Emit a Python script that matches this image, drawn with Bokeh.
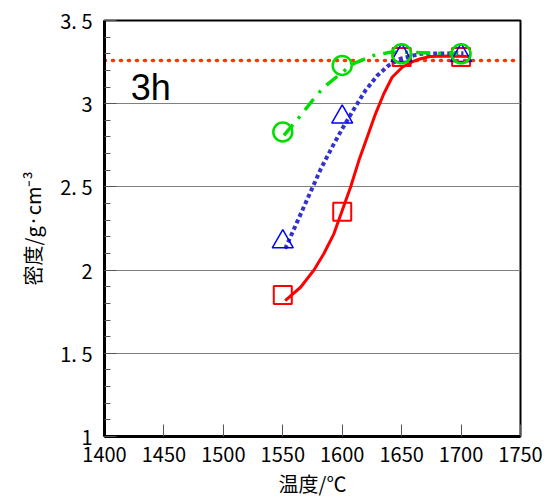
from bokeh.plotting import figure
from bokeh.models import Range1d, FixedTicker, Label
from bokeh.embed import file_html
from bokeh.resources import INLINE

# Measured points
temps = [1550, 1600, 1650, 1700]
dens_sq = [1.85, 2.35, 3.28, 3.28]
dens_tri = [2.17, 2.92, 3.29, 3.29]
dens_circ = [2.83, 3.23, 3.30, 3.30]

# Fitted curves
red_x = [1552, 1565, 1576, 1584.5, 1593, 1600, 1607, 1614, 1621, 1628, 1635, 1642,
         1650.5, 1660, 1666, 1674, 1690, 1708]
red_y = [1.817, 1.897, 1.998, 2.098, 2.218, 2.358, 2.498, 2.658, 2.799, 2.939, 3.060,
         3.159, 3.219, 3.255, 3.270, 3.284, 3.286, 3.284]
blue_x = [1552, 1562, 1572, 1582, 1591.5, 1600, 1610, 1619.5, 1629.5, 1639, 1649,
          1666, 1697, 1702]
blue_y = [2.128, 2.288, 2.448, 2.609, 2.739, 2.849, 2.969, 3.079, 3.169, 3.230, 3.270,
          3.300, 3.303, 3.303]
green_x = [1551, 1565, 1576, 1584.5, 1598.5, 1610, 1626.5, 1640.5, 1657.5, 1697]
green_y = [2.809, 2.929, 3.029, 3.099, 3.180, 3.243, 3.290, 3.309, 3.309, 3.300]

ref_density = 3.26
x_ticks = [1400, 1450, 1500, 1550, 1600, 1650, 1700, 1750]
y_ticks = [1, 1.5, 2, 2.5, 3, 3.5]
y_tick_labels = {1: "1", 1.5: "1. 5", 2: "2", 2.5: "2. 5", 3: "3", 3.5: "3. 5"}

FONT = "Noto Sans CJK JP"

p = figure(width=544, height=494, frame_width=416, frame_height=416,
           output_backend="svg", toolbar_location=None,
           x_range=Range1d(1400, 1750), y_range=Range1d(1, 3.5),
           min_border_left=104, min_border_right=24, min_border_top=20, min_border_bottom=58)
p.background_fill_color = "white"
p.border_fill_color = "white"
p.outline_line_color = "black"
p.outline_line_width = 2

# grid
p.xgrid.grid_line_color = None
p.ygrid.grid_line_color = "#808080"
p.ygrid.grid_line_width = 1
p.ygrid.ticker = FixedTicker(ticks=y_ticks)

# axes
p.xaxis.ticker = FixedTicker(ticks=x_ticks)
p.yaxis.ticker = FixedTicker(ticks=y_ticks, minor_ticks=[1 + 0.1 * i for i in range(26)])
p.yaxis.major_label_overrides = y_tick_labels
for ax in (p.xaxis[0], p.yaxis[0]):
    ax.axis_line_color = "black"
    ax.axis_line_width = 3
    ax.major_tick_out = 0
    ax.major_tick_in = 12
    ax.major_tick_line_color = "#555555"
    ax.minor_tick_out = 0
    ax.minor_tick_in = 6
    ax.minor_tick_line_color = "#555555"
    ax.major_label_text_font = FONT
    ax.major_label_text_font_size = "20px"
    ax.major_label_text_color = "black"
    ax.axis_label_text_font = FONT
    ax.axis_label_text_font_size = "20px"
    ax.axis_label_text_font_style = "normal"
    ax.axis_label_text_color = "black"
p.xaxis.minor_tick_in = 0
p.xaxis.major_label_standoff = 10
p.yaxis.major_label_standoff = 12
p.xaxis.axis_label = "温度/℃"
p.xaxis.axis_label_standoff = 4
p.yaxis.axis_label = "密度/g·cm⁻³"
p.yaxis.axis_label_standoff = 10

# reference line
p.line([1400, 1750], [ref_density, ref_density], line_color="#FF3300", line_width=3.5,
       line_dash="1 7", line_cap="round")

# curves
p.line(red_x, red_y, line_color="#FF0000", line_width=3)
p.line(blue_x, blue_y, line_color="#3333CC", line_width=4, line_dash="4 3")
p.line(green_x, green_y, line_color="#00DD00", line_width=3.5, line_dash="14 8 3 8")

# markers
p.scatter(temps, dens_sq, marker="square", size=18, fill_color=None,
          line_color="#FF0000", line_width=2)
p.scatter(temps, dens_tri, marker="triangle", size=21, fill_color=None,
          line_color="#0000FF", line_width=1.5)
p.scatter(temps, dens_circ, marker="circle", size=19, fill_color=None,
          line_color="#00DD00", line_width=2.5)

p.add_layout(Label(x=1422, y=3.1, text="3h", text_font="Liberation Sans",
                   text_font_size="36px", text_color="black", text_baseline="middle"))

open("out.html", "w").write(file_html(p, INLINE))
